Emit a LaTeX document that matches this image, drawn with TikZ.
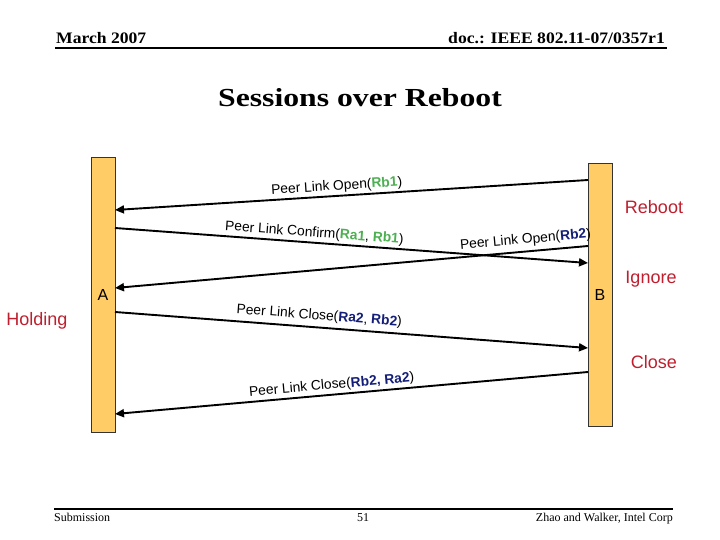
\documentclass[tikz,border=0pt]{standalone}
\usepackage{fontspec}
\setmainfont{Liberation Serif}
\setsansfont{Liberation Sans}
\newfontfamily\widebold[FakeStretch=1.1]{Liberation Serif Bold}
\newfontfamily\titlebold[FakeStretch=1.22]{Liberation Serif Bold}
\usetikzlibrary{arrows.meta}
\definecolor{barfill}{RGB}{255,204,102}
\definecolor{notered}{RGB}{190,30,45}
\definecolor{keygreen}{RGB}{76,175,80}
\definecolor{keyblue}{RGB}{20,30,120}
\newcommand{\kg}[1]{\textbf{\color{keygreen}#1}}
\newcommand{\kb}[1]{\textbf{\color{keyblue}#1}}
\tikzset{
	bar/.style={draw=black!80, line width=0.8pt, fill=barfill, minimum width=24pt, inner sep=0pt, font=\sffamily\fontsize{16}{18}\selectfont},
	msg/.style={line width=1.9pt, -{Triangle[length=9pt,width=8pt]}},
	lbl/.style={sloped, above, inner sep=2pt, font=\sffamily\fontsize{13.8}{15}\selectfont},
	note/.style={text=notered, font=\sffamily\fontsize{18}{20}\selectfont},
	head/.style={font=\widebold\fontsize{16}{18}\selectfont},
	foot/.style={font=\fontsize{12}{14}\selectfont},
	rule/.style={line width=2.4pt}
}
\begin{document}
\begin{tikzpicture}[x=1pt,y=-1pt]
	\useasboundingbox (0,0) rectangle (720,540);
	% header and footer
	\node[head, anchor=base west, inner sep=0pt] (date) at (56,44) {March 2007};
	\node[head, anchor=base east, inner sep=0pt] (doc) at (665,44) {doc.: IEEE 802.11-07/0357r1};
	\coordinate (hl) at (55,48);
	\coordinate (hr) at (667,48);
	\draw[rule] (hl) -- (hr);
	\node[anchor=base, inner sep=0pt, font=\titlebold\fontsize{26}{30}\selectfont] (title) at (360,107) {Sessions over Reboot};
	\coordinate (fl) at (54,509);
	\coordinate (fr) at (673,509);
	\draw[rule] (fl) -- (fr);
	\node[foot, anchor=base west, inner sep=0pt] (sub) at (54,521) {Submission};
	\node[foot, anchor=base, inner sep=0pt] (page) at (363,521) {51};
	\node[foot, anchor=base east, inner sep=0pt] (auth) at (673,521) {Zhao and Walker, Intel Corp};
	% stations
	\node[bar, minimum height=275pt] (A) at (103,294.5) {A};
	\node[bar, minimum height=263pt] (B) at (600,294.5) {B};
	\node[note] (hold) at (37,321) {Holding};
	\node[note] (reboot) at (654,207) {Reboot};
	\node[note] (ignore) at (651,279) {Ignore};
	\node[note] (close) at (654,362) {Close};
	% message end points
	\coordinate (b1) at (588,180);
	\coordinate (a1) at (115,210);
	\coordinate (a2) at (115,228);
	\coordinate (b2) at (588,263);
	\coordinate (b3) at (588,246);
	\coordinate (a3) at (115,288);
	\coordinate (a4) at (115,312);
	\coordinate (b4) at (588,348);
	\coordinate (b5) at (588,372);
	\coordinate (a5) at (115,414);
	% messages
	\draw[msg] (b1) -- node[lbl, pos=0.53] {Peer Link Open(\kg{Rb1})} (a1);
	\draw[msg] (a2) -- node[lbl, pos=0.42] {Peer Link Confirm(\kg{Ra1}, \kg{Rb1})} (b2);
	\draw[msg] (b3) -- node[lbl, pos=0.13, yshift=2pt] {Peer Link Open(\kb{Rb2})} (a3);
	\draw[msg] (a4) -- node[lbl, pos=0.43, yshift=2pt] {Peer Link Close(\kb{Ra2}, \kb{Rb2})} (b4);
	\draw[msg] (b5) -- node[lbl, pos=0.54] {Peer Link Close(\kb{Rb2, Ra2})} (a5);
\end{tikzpicture}
\end{document}
